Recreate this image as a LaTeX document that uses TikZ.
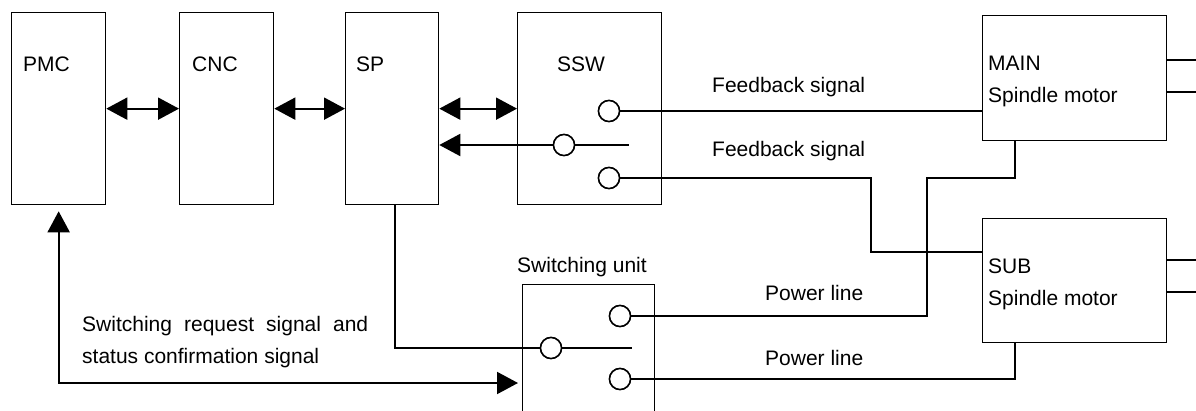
\documentclass[tikz,border=0pt]{standalone}
\usepackage{fontspec}
\setmainfont{Liberation Sans}
\usetikzlibrary{arrows.meta,calc}
\begin{document}
\begin{tikzpicture}[x=1pt,y=-1pt,
  >={Triangle[length=21pt,width=22pt]},
  box/.style={draw,line width=1.3pt,rectangle,inner sep=0pt,anchor=north west},
  lbl/.style={anchor=base west,inner sep=0pt,font=\fontsize{21}{25}\selectfont},
  ct/.style={circle,draw,fill=white,line width=1.5pt,minimum size=21pt,inner sep=0pt},
  wire/.style={line width=2pt},
  thin/.style={line width=1.3pt}]
\useasboundingbox (0,0) rectangle (1196,411);
\clip (0,0) rectangle (1196,411);
% boxes
\node[box,minimum width=94pt,minimum height=192pt] (PMC) at (11,12) {};
\node[box,minimum width=94pt,minimum height=192pt] (CNC) at (179,12) {};
\node[box,minimum width=93pt,minimum height=192pt] (SP) at (345,12) {};
\node[box,minimum width=144pt,minimum height=192pt] (SSW) at (517,12) {};
\node[box,minimum width=184pt,minimum height=125pt] (MAIN) at (982,15) {};
\node[box,minimum width=184pt,minimum height=124pt] (SUB) at (982,218) {};
\node[box,minimum width=132pt,minimum height=160pt] (UNIT) at (522,284) {};
% labels
\node[lbl] (tPMC) at (23,72) {PMC};
\node[lbl] (tCNC) at (192,72) {CNC};
\node[lbl] (tSP) at (356,72) {SP};
\node[lbl] (tSSW) at (557,72) {SSW};
\node[lbl] (tMAIN) at (988,71) {MAIN};
\node[lbl] (tMAIN2) at (988,103) {Spindle motor};
\node[lbl] (tSUB) at (988,274) {SUB};
\node[lbl] (tSUB2) at (988,306) {Spindle motor};
\node[lbl] (tFB1) at (712,93) {Feedback signal};
\node[lbl] (tFB2) at (712,157) {Feedback signal};
\node[lbl] (tPL1) at (765,301) {Power line};
\node[lbl] (tPL2) at (765,365) {Power line};
\node[lbl] (tUNIT) at (517,273) {Switching unit};
\node[lbl] (tREQ1) at (82,332) {\makebox[286pt][s]{Switching request signal and}};
\node[lbl] (tREQ2) at (82,363) {status confirmation signal};
% contacts
\node[ct] (s1) at (609,111) {};
\node[ct] (s2) at (609,178) {};
\node[ct] (sm) at (564,145) {};
\node[ct] (u1) at (620,316) {};
\node[ct] (u2) at (620,379) {};
\node[ct] (um) at (551,348) {};
\coordinate (sswend) at (629,145);
\coordinate (uend) at (632,348);
\coordinate (fbturn) at (871,252);
\coordinate (mb) at ($(MAIN.south west)+(33,0)$);
\coordinate (pwturn) at (927,178);
\coordinate (sb) at ($(SUB.south west)+(33,0)$);
\coordinate (spb) at ($(SP.south)+(2.5,0)$);
\coordinate (pmcb) at ($(PMC.south)+(0,6)$);
\coordinate (unitin) at ($(UNIT.west |- 0,383)+(-4,0)$);
\coordinate (e1) at (1196,60);
\coordinate (e2) at (1196,92);
\coordinate (e3) at (1196,260);
\coordinate (e4) at (1196,292);
% wires
\begin{scope}[on background layer/.try]
\end{scope}
\draw[wire,<->] (PMC.east) -- (CNC.west);
\draw[wire,<->] (CNC.east) -- (SP.west);
\draw[wire,<->] (SP.east) -- (SSW.west);
\draw[wire,->] (sm.west) -- (sm.west -| SP.east);
\draw[wire] (sm.east) -- (sswend);
\draw[wire] (s1.east) -- (s1.east -| MAIN.west);
\draw[wire] (s2.east) -| (fbturn) -- (fbturn -| SUB.west);
\draw[wire] (mb) |- (pwturn) |- (u1.east);
\draw[wire] (u2.east) -| (sb);
\draw[wire] (spb) |- (um.west);
\draw[wire] (um.east) -- (uend);
\draw[wire,<->] (pmcb) |- (unitin);
% motor stubs
\draw[thin] (MAIN.east |- e1) -- (e1);
\draw[thin] (MAIN.east |- e2) -- (e2);
\draw[thin] (SUB.east |- e3) -- (e3);
\draw[thin] (SUB.east |- e4) -- (e4);
% redraw contacts on top
\node[ct] at (s1) {};
\node[ct] at (s2) {};
\node[ct] at (sm) {};
\node[ct] at (u1) {};
\node[ct] at (u2) {};
\node[ct] at (um) {};
\end{tikzpicture}
\end{document}
